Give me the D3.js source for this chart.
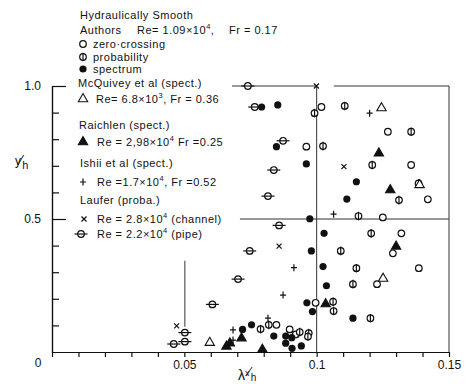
<!DOCTYPE html>
<html>
<head>
<meta charset="utf-8">
<script src="https://cdn.jsdelivr.net/npm/d3@7"></script>
<style>
  body { margin: 0; background: #fff; }
  svg text { font-family: "Liberation Sans", Arial, sans-serif; fill: #111; }
</style>
</head>
<body>
<div id="chart"></div>
<script>
// data points: [lambda_x / h, y / h]
const zeroCrossing = [
  [0.1018, 0.921], [0.1269, 0.828], [0.0961, 0.772], [0.1357, 0.703], [0.1420, 0.574],
  [0.1250, 0.506], [0.1320, 0.446], [0.1288, 0.371], [0.1386, 0.315], [0.1228, 0.255],
  [0.0996, 0.185], [0.0848, 0.102], [0.0898, 0.085], [0.0921, 0.066]
];
const probability = [
  [0.0992, 0.898], [0.1106, 0.925], [0.1357, 0.828], [0.1024, 0.774], [0.1210, 0.703],
  [0.1385, 0.634], [0.1311, 0.571], [0.1158, 0.511], [0.1206, 0.446], [0.1091, 0.380],
  [0.1150, 0.315], [0.1137, 0.255], [0.1062, 0.189], [0.1064, 0.154], [0.1203, 0.127],
  [0.0788, 0.086], [0.0819, 0.102], [0.0936, 0.075], [0.0970, 0.071], [0.0967, 0.058]
];
const spectrum = [
  [0.0792, 0.921], [0.0853, 0.929], [0.0848, 0.772], [0.0961, 0.707], [0.1150, 0.640],
  [0.1114, 0.575], [0.0974, 0.501], [0.1028, 0.446], [0.0980, 0.380], [0.1024, 0.321],
  [0.1037, 0.249], [0.0963, 0.185], [0.0984, 0.152], [0.1137, 0.127], [0.0754, 0.102],
  [0.0720, 0.085], [0.0838, 0.060], [0.0883, 0.060], [0.0906, 0.054], [0.0883, 0.033],
  [0.0942, 0.023], [0.0907, 0.014]
];
const mcquivey = [[0.1245, 0.917], [0.1389, 0.628], [0.1251, 0.276], [0.0596, 0.035]];
const raichlen = [
  [0.1235, 0.747], [0.1278, 0.609], [0.1300, 0.397], [0.1034, 0.180],
  [0.0716, 0.052], [0.0672, 0.033], [0.0659, 0.021], [0.0795, 0.009]
];
const ishii = [
  [0.1200, 0.898], [0.1064, 0.518], [0.0914, 0.317], [0.0873, 0.214],
  [0.0816, 0.127], [0.0684, 0.083], [0.0684, 0.045]
];
const lauferChannel = [[0.0999, 1.0], [0.1103, 0.697], [0.0858, 0.398], [0.0471, 0.098]];
const lauferPipe = [
  [0.0740, 1.0], [0.0766, 0.921], [0.0873, 0.794], [0.0838, 0.684], [0.0816, 0.586],
  [0.0858, 0.476], [0.0747, 0.380], [0.0703, 0.274], [0.0606, 0.179], [0.0502, 0.073],
  [0.0502, 0.039], [0.0460, 0.030]
];

// guide lines drawn in the figure: [[x1, y1], [x2, y2]]
const guideLines = [
  [[0.1, 0], [0.1, 1.0]],
  [[0.15, 0], [0.15, 1.0]],
  [[0.071, 0.5], [0.15, 0.5]],
  [[0.068, 1.0], [0.0995, 1.0]],
  [[0.1065, 1.0], [0.15, 1.0]],
  [[0.0502, 0.095], [0.0502, 0.343]]
];

const xTicks = d3.range(0, 0.1501, 0.01);
const xLabels = [0.05, 0.1, 0.15];
const yMinorTicks = [0.1, 0.2, 0.3, 0.4, 0.6, 0.7, 0.8, 0.9];
const yMajorTicks = [0.5, 1.0];

const ink = "#111";
const svg = d3.select("#chart").append("svg")
  .attr("width", 466)
  .attr("height", 384);

const x = d3.scaleLinear().domain([0, 0.15]).range([52, 449]);
const y = d3.scaleLinear().domain([0, 1]).range([352, 86]);

// x axis
svg.append("g")
  .attr("transform", `translate(0,${y(0)})`)
  .call(d3.axisBottom(x)
    .tickValues(xTicks)
    .tickSizeInner(5)
    .tickSizeOuter(0)
    .tickPadding(3)
    .tickFormat(d => {
      const hit = xLabels.find(v => Math.abs(v - d) < 1e-6);
      return hit === undefined ? "" : String(hit);
    }));

// y axis (ticks point inward)
svg.append("g")
  .attr("transform", `translate(${x(0)},0)`)
  .call(d3.axisLeft(y).tickValues(yMinorTicks).tickSizeInner(-7).tickSizeOuter(0).tickFormat(""));
svg.append("g")
  .attr("transform", `translate(${x(0)},0)`)
  .call(d3.axisLeft(y).tickValues(yMajorTicks).tickSizeInner(-14).tickSizeOuter(0)
    .tickPadding(11).tickFormat(d3.format(".1f")));

svg.selectAll(".domain, .tick line").attr("stroke", ink).attr("stroke-width", 1.2);
svg.selectAll(".tick text").attr("font-size", 12).style("font-family", '"Liberation Sans", Arial, sans-serif').attr("fill", ink);

// origin label
svg.append("text").attr("x", 38).attr("y", 367).attr("text-anchor", "middle")
  .attr("font-size", 12).text("0");

// axis titles
const yTitle = svg.append("text").attr("x", 15).attr("y", 165).attr("font-size", 12);
yTitle.append("tspan").text("y");
yTitle.append("tspan").attr("dx", -1).attr("font-size", 14).text("⁄");
yTitle.append("tspan").attr("dy", 4).attr("font-size", 11).text("h");

const xTitle = svg.append("text").attr("x", 238).attr("y", 380).attr("font-size", 14);
xTitle.append("tspan").text("λ");
xTitle.append("tspan").attr("dy", -4).attr("font-size", 9).text("x");
xTitle.append("tspan").attr("dx", -1).attr("font-size", 13).text("⁄");
xTitle.append("tspan").attr("dy", 5).attr("font-size", 10).text("h");

// guide lines
svg.append("g").selectAll("line")
  .data(guideLines)
  .join("line")
  .attr("x1", d => x(d[0][0])).attr("y1", d => y(d[0][1]))
  .attr("x2", d => x(d[1][0])).attr("y2", d => y(d[1][1]))
  .attr("stroke", "#333")
  .attr("stroke-width", 1);

// marker shapes
function drawMarker(g, type) {
  if (type === "open" || type === "prob" || type === "pipe") {
    g.append("circle").attr("r", 3.3).attr("fill", "#fff").attr("stroke", ink).attr("stroke-width", 1.2);
  }
  if (type === "prob") {
    g.append("line").attr("x1", 0).attr("x2", 0).attr("y1", -4.3).attr("y2", 4.3)
      .attr("stroke", ink).attr("stroke-width", 1.2);
  }
  if (type === "pipe") {
    g.append("line").attr("x1", -6.5).attr("x2", 6.5).attr("y1", 0).attr("y2", 0)
      .attr("stroke", ink).attr("stroke-width", 1.2);
  }
  if (type === "filled") {
    g.append("circle").attr("r", 3.6).attr("fill", ink);
  }
  if (type === "tri" || type === "trifill") {
    g.append("path").attr("d", d3.symbol(d3.symbolTriangle, 38)())
      .attr("fill", type === "trifill" ? ink : "#fff")
      .attr("stroke", ink).attr("stroke-width", 1.1);
  }
  if (type === "plus") {
    g.append("path").attr("d", "M-3,0H3M0,-3.5V3.5").attr("stroke", ink).attr("stroke-width", 1.2);
  }
  if (type === "cross") {
    g.append("path").attr("d", "M-2.5,-2.5L2.5,2.5M-2.5,2.5L2.5,-2.5").attr("stroke", ink).attr("stroke-width", 1.2);
  }
}

function drawSeries(data, type) {
  svg.append("g").selectAll("g")
    .data(data)
    .join("g")
    .attr("transform", d => `translate(${x(d[0])},${y(d[1])})`)
    .each(function () { drawMarker(d3.select(this), type); });
}

drawSeries(lauferPipe, "pipe");
drawSeries(lauferChannel, "cross");
drawSeries(ishii, "plus");
drawSeries(zeroCrossing, "open");
drawSeries(probability, "prob");
drawSeries(spectrum, "filled");
drawSeries(mcquivey, "tri");
drawSeries(raichlen, "trifill");

// legend
const legendRows = [
  { type: null, tx: 80, ty: 19, text: "Hydraulically Smooth" },
  { type: null, tx: 80, ty: 34, text: "Authors" },
  { type: null, tx: 137, ty: 34, text: "Re= 1.09×10", sup: "4", after: "," },
  { type: null, tx: 229, ty: 34, text: "Fr = 0.17" },
  { type: "open", mx: 83, my: 44, tx: 93, ty: 48, text: "zero·crossing" },
  { type: "prob", mx: 83, my: 57, tx: 93, ty: 61, text: "probability" },
  { type: "filled", mx: 83, my: 69, tx: 93, ty: 73, text: "spectrum" },
  { type: null, tx: 78, ty: 87, text: "McQuivey et al (spect.)" },
  { type: "tri", mx: 83, my: 99, tx: 96, ty: 103, text: "Re= 6.8×10", sup: "3", after: ", Fr = 0.36" },
  { type: null, tx: 79, ty: 129, text: "Raichlen  (spect.)" },
  { type: "trifill", mx: 83, my: 142, tx: 97, ty: 146, text: "Re = 2,98×10", sup: "4", after: " Fr =0.25" },
  { type: null, tx: 80, ty: 167, text: "Ishii et al (spect.)" },
  { type: "plus", mx: 83, my: 182, tx: 97, ty: 186, text: "Re =1.7×10", sup: "4", after: ", Fr =0.52" },
  { type: null, tx: 80, ty: 204, text: "Laufer (proba.)" },
  { type: "cross", mx: 84, my: 219, tx: 97, ty: 223, text: "Re = 2.8×10", sup: "4", after: " (channel)" },
  { type: "pipe", mx: 81, my: 234, tx: 97, ty: 238, text: "Re = 2.2×10", sup: "4", after: " (pipe)" }
];

const legend = svg.append("g");
legendRows.forEach(r => {
  if (r.type) {
    const g = legend.append("g").attr("transform", `translate(${r.mx},${r.my})`);
    drawMarker(g, r.type);
  }
  const t = legend.append("text").attr("x", r.tx).attr("y", r.ty)
    .attr("font-size", 11).attr("letter-spacing", 0.5);
  t.append("tspan").text(r.text);
  if (r.sup) {
    t.append("tspan").attr("dy", -5).attr("font-size", 7.5).text(r.sup);
    t.append("tspan").attr("dy", 5).text(r.after);
  }
});
</script>
</body>
</html>
